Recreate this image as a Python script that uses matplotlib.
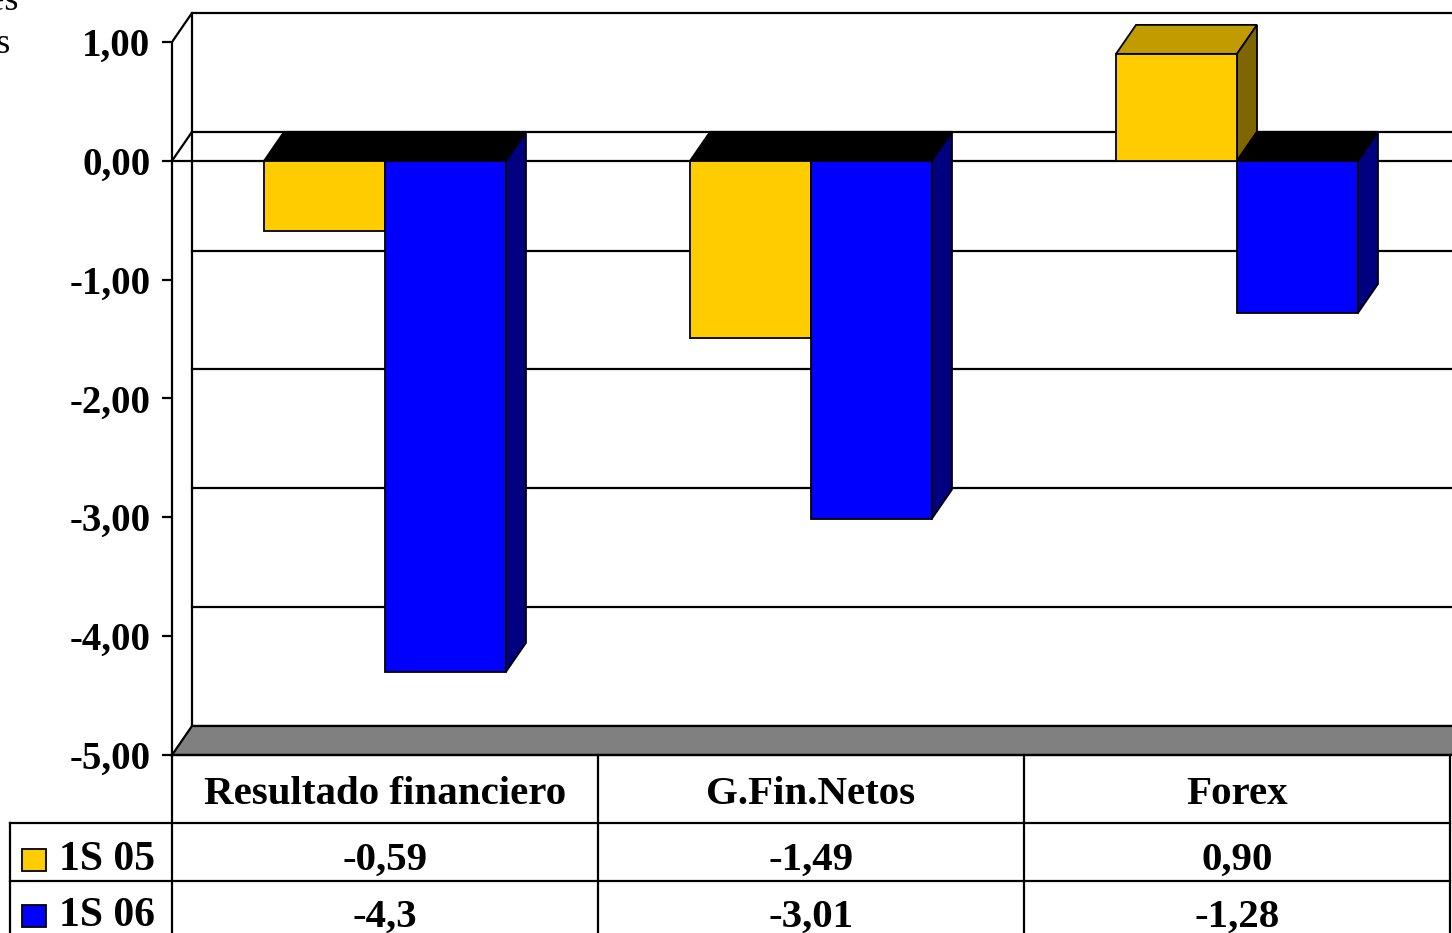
import matplotlib.pyplot as plt
from matplotlib.patches import Polygon, Rectangle

# chart data
categories = ['Resultado financiero', 'G.Fin.Netos', 'Forex']
series_names = ['1S 05', '1S 06']
values_05 = [-0.59, -1.49, 0.90]
values_06 = [-4.3, -3.01, -1.28]
table_05 = ['-0,59', '-1,49', '0,90']
table_06 = ['-4,3', '-3,01', '-1,28']
y_ticks = [1, 0, -1, -2, -3, -4, -5]

# colours: front, top, side
colors = {
    '1S 05': ('#FFCC00', '#C09C00', '#806600'),
    '1S 06': ('#0000FF', '#000099', '#000080'),
}

W, H = 1452, 933
CAT_PX = 426.0           # pixel width of one category
UNIT_PX = 713 / 6.0      # pixel height of one value unit
DX = 20 / CAT_PX         # depth offset in x (category units)
DY = 29 / UNIT_PX        # depth offset in y (value units)
BAR_W = 0.284

plt.rcParams['font.family'] = ['Liberation Serif', 'DejaVu Serif']
plt.rcParams['font.weight'] = 'bold'

fig = plt.figure(figsize=(W / 100, H / 100), dpi=100)


def fx(px):
    return px / W


def fy(py):
    return 1 - py / H


# main plot area: front axis at x=172px, floor at y=755px
ax = fig.add_axes([fx(172), fy(755), (W - 172) / W, (755 - 13) / H])
xmax = (W - 172) / CAT_PX
ax.set_xlim(0, xmax)
ax.set_ylim(-5, 1 + DY)
for side in ['top', 'right', 'bottom']:
    ax.spines[side].set_visible(False)
ax.spines['left'].set_bounds(-5, 1)
ax.spines['left'].set_linewidth(1.6)
ax.set_xticks([])
ax.set_yticks(y_ticks)
ax.set_yticklabels([f'{t:.2f}'.replace('.', ',') for t in y_ticks],
                   fontsize=28, fontweight='bold')
ax.tick_params(axis='y', direction='out', length=7.5, width=1.6, pad=8)
ax.patch.set_alpha(0)

lw = 1.6
# back wall gridlines and back axis
for t in y_ticks:
    ax.plot([DX, xmax + DX], [t + DY, t + DY], color='black', lw=lw,
            clip_on=False, zorder=1)
ax.plot([DX, DX], [-5 + DY, 1 + DY], color='black', lw=lw, clip_on=False, zorder=1)
# side wall edges
for t in [1, 0]:
    ax.plot([0, DX], [t, t + DY], color='black', lw=lw, zorder=1)

# floor
floor = Polygon([(0, -5), (DX, -5 + DY), (xmax + DX, -5 + DY), (xmax, -5)],
                closed=True, facecolor='#808080', edgecolor='black', lw=lw,
                zorder=2, clip_on=False)
ax.add_patch(floor)

# front zero line
ax.plot([0, xmax], [0, 0], color='black', lw=lw, zorder=2)

# bars
for i in range(len(categories)):
    for s, vals in enumerate([values_05, values_06]):
        v = vals[i]
        front_c, top_c, side_c = colors[series_names[s]]
        x0 = i + 0.5 - BAR_W + s * BAR_W
        x1 = x0 + BAR_W
        z = 3 + s
        top = max(0, v)
        ax.add_patch(Polygon([(x0, top), (x0 + DX, top + DY), (x1 + DX, top + DY), (x1, top)],
                             closed=True, facecolor=top_c if v >= 0 else 'black',
                             edgecolor='black', lw=1.3, zorder=z))
        ax.add_patch(Polygon([(x1, 0), (x1 + DX, DY), (x1 + DX, v + DY), (x1, v)],
                             closed=True, facecolor=side_c, edgecolor='black',
                             lw=1.3, zorder=z))
        ax.add_patch(Rectangle((x0, min(0, v)), BAR_W, abs(v), facecolor=front_c,
                               edgecolor='black', lw=1.3, zorder=z))

# data table below the chart
tab = fig.add_axes([0, 0, 1, fy(755)])
tab.set_xlim(0, W)
tab.set_ylim(H, 755)
tab.axis('off')
col_x = [172 + k * CAT_PX for k in range(4)]
row_y = [755, 823, 881, 940]


def line(xs, ys):
    tab.plot(xs, ys, color='black', lw=lw, clip_on=False)


line([col_x[0], col_x[-1]], [row_y[0], row_y[0]])
for yy in row_y[1:3]:
    line([10, col_x[-1]], [yy, yy])
for xx in col_x:
    line([xx, xx], [row_y[0], H + 10])
line([10, 10], [row_y[1], H + 10])

for k, name in enumerate(categories):
    cx = (col_x[k] + col_x[k + 1]) / 2
    tab.text(cx, 794, name, ha='center', va='center', fontsize=29.5, fontweight='bold')
    tab.text(cx, 860, table_05[k], ha='center', va='center', fontsize=29.5, fontweight='bold')
    tab.text(cx, 917, table_06[k], ha='center', va='center', fontsize=29.5, fontweight='bold')

for s, yc in enumerate([860, 916]):
    front_c = colors[series_names[s]][0]
    tab.add_patch(Rectangle((22, yc - 11), 24, 22, facecolor=front_c,
                            edgecolor='black', lw=1.3, clip_on=False))
    tab.text(59, yc, series_names[s], ha='left', va='center',
             fontsize=30, fontweight='bold')

# unit label, cut off at the left edge
fig.text(fx(18), fy(10), 'Millones', ha='right', va='baseline',
         fontsize=26, fontweight='normal')
fig.text(fx(10), fy(53), 'de euros', ha='right', va='baseline',
         fontsize=26, fontweight='normal')

fig.savefig('out.png', dpi=100)
